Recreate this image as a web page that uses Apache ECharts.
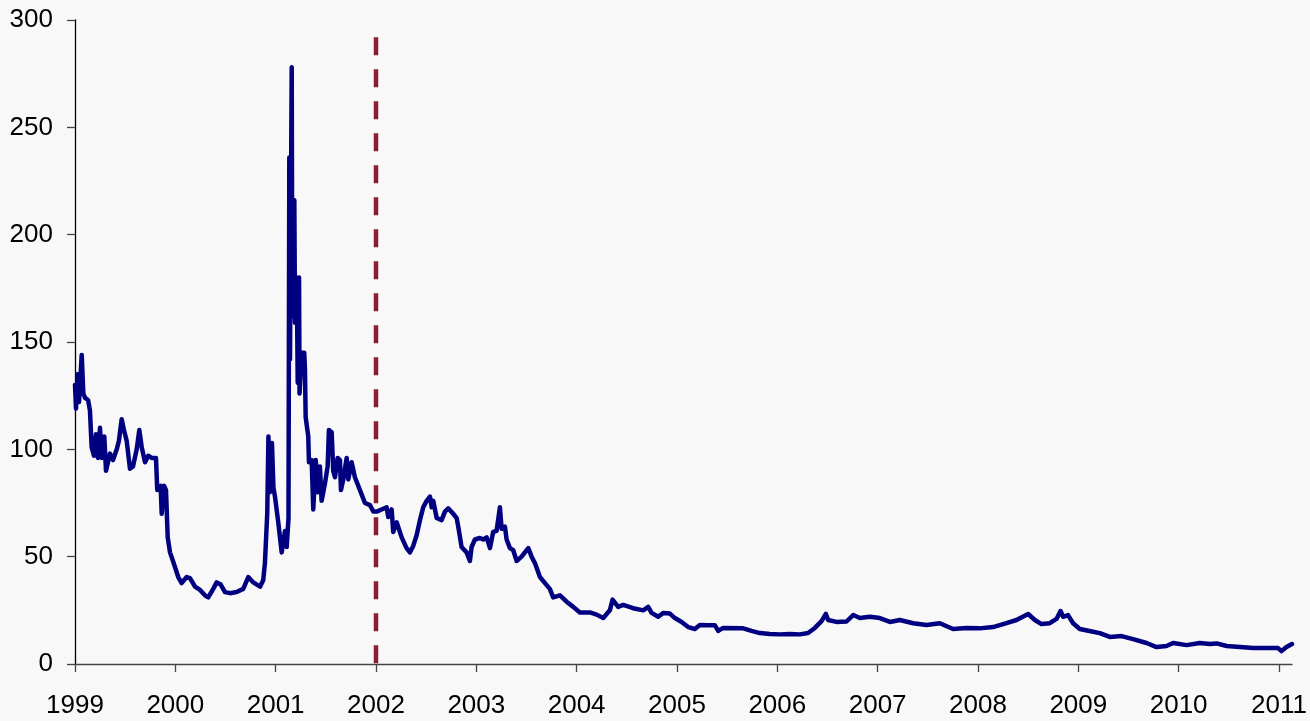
<!DOCTYPE html>
<html>
<head>
<meta charset="utf-8">
<script src="https://cdn.jsdelivr.net/npm/echarts@6/dist/echarts.min.js"></script>
<style>
html,body{margin:0;padding:0;background:#f8f8f8;}
#c{width:1310px;height:721px;}
</style>
</head>
<body>
<div id="c"></div>
<script>
// Decimal-year dates of the series
const years = [
1999.000,1999.010,1999.025,1999.040,1999.067,1999.083,1999.100,1999.130,1999.149,1999.166,
1999.189,1999.209,1999.229,1999.249,1999.266,1999.292,1999.309,1999.349,1999.379,1999.416,
1999.438,1999.465,1999.488,1999.515,1999.548,1999.578,1999.615,1999.641,1999.665,1999.698,
1999.730,1999.764,1999.807,1999.820,1999.854,1999.864,1999.887,1999.907,1999.924,1999.947,
1999.980,2000.029,2000.063,2000.113,2000.146,2000.196,2000.246,2000.295,2000.328,2000.378,
2000.412,2000.452,2000.495,2000.545,2000.611,2000.677,2000.727,2000.777,2000.844,2000.876,
2000.893,2000.916,2000.928,2000.943,2000.963,2000.978,2000.993,2001.026,2001.060,2001.093,
2001.110,2001.128,2001.136,2001.143,2001.160,2001.166,2001.186,2001.193,2001.210,2001.220,
2001.233,2001.238,2001.260,2001.285,2001.292,2001.299,2001.325,2001.332,2001.359,2001.375,
2001.399,2001.419,2001.441,2001.458,2001.491,2001.518,2001.531,2001.558,2001.574,2001.591,
2001.618,2001.641,2001.651,2001.674,2001.708,2001.724,2001.757,2001.790,2001.840,2001.890,
2001.940,2001.973,2002.007,2002.056,2002.106,2002.122,2002.156,2002.172,2002.206,2002.256,
2002.305,2002.338,2002.371,2002.405,2002.438,2002.471,2002.505,2002.538,2002.555,2002.571,
2002.605,2002.654,2002.687,2002.720,2002.770,2002.804,2002.820,2002.853,2002.903,2002.936,
2002.953,2002.986,2003.036,2003.069,2003.103,2003.136,2003.168,2003.202,2003.235,2003.252,
2003.285,2003.302,2003.335,2003.368,2003.402,2003.451,2003.484,2003.518,2003.551,2003.584,
2003.634,2003.684,2003.733,2003.766,2003.833,2003.900,2003.966,2004.032,2004.132,2004.199,
2004.265,2004.331,2004.358,2004.414,2004.464,2004.563,2004.663,2004.713,2004.747,2004.813,
2004.862,2004.929,2004.979,2005.046,2005.112,2005.178,2005.228,2005.311,2005.378,2005.411,
2005.460,2005.660,2005.743,2005.826,2005.926,2006.025,2006.125,2006.225,2006.307,2006.374,
2006.441,2006.484,2006.507,2006.590,2006.690,2006.756,2006.823,2006.922,2007.022,2007.122,
2007.221,2007.354,2007.487,2007.620,2007.752,2007.886,2008.018,2008.151,2008.284,2008.384,
2008.500,2008.567,2008.633,2008.716,2008.783,2008.823,2008.849,2008.898,2008.948,2009.015,
2009.148,2009.214,2009.314,2009.431,2009.546,2009.680,2009.780,2009.879,2009.945,2010.079,
2010.211,2010.311,2010.378,2010.478,2010.611,2010.743,2010.876,2010.991,2011.025,2011.075,
2011.130
];
// Series values
const values = [
130,119,135,122,144,126,124,123,118,101,
97,107,96,110,96,106,90,98,95,100,
104,114,109,104,91,92,100,109,101,94,
97,96,96,81,83,70,83,81,59,52,
47.5,40.5,37.7,40.5,40,36,34.5,32,31,35,
38,37,33.5,33,33.5,35,40.5,38,36,39,
47,70,106,80,103,82,78,66,52,62,
54.5,68,236,142,278,162,216,159,180,131,
180,126,145,145,137,115,106,94,95,72,
95,80,92,76,84,92,109,108,90,87,
96,95,81,86,96,86,94,87,81,75,
74,71,71,72,73,68.5,72,61.5,66,59,
54,52,55,60,67,73,76,78,73,76,
68,67,71,72.5,70,68,64,54.5,52,48,
54.5,58,58.7,58,59,54,61.5,62,73,63,
64,58,54,53,48,50,52,54,50,47,
40.5,37.7,35,31,32,29,26.6,24,24,23,
21.4,25,30,26.6,27.5,26,25,26.6,23.8,22,
23.8,23.5,21.4,19.6,17.2,16.3,18.2,18,18,15.4,
16.8,16.6,15.4,14.4,14,13.8,14,13.8,14.4,16.8,
20,23.3,20.5,19.6,19.8,22.8,21.4,22,21.4,19.6,
20.5,19,18.2,19,16.3,16.8,16.6,17.2,19,20.5,
23.3,20.5,18.6,19,21,24.7,22,22.8,19,16.3,
15,14.4,12.6,13,11.6,9.8,7.9,8.4,9.8,8.8,
9.8,9.3,9.6,8.4,7.9,7.5,7.5,7.4,6,7.9,
9.3
];
// X tick labels (years)
const yearTicks = [1999,2000,2001,2002,2003,2004,2005,2006,2007,2008,2009,2010,2011];
// Vertical dashed marker
const markerYear = 2002;
const markerTop = 292;

const seriesData = years.map((y, i) => [y, values[i]]);
const markerData = [[markerYear, markerTop], [markerYear, 0]];

const chart = echarts.init(document.getElementById('c'), null, {renderer: 'canvas'});
const font = '"Liberation Sans", Arial, Helvetica, sans-serif';
chart.setOption({
  animation: false,
  backgroundColor: '#f8f8f8',
  grid: {left: 75, right: 18, top: 20, bottom: 57, containLabel: false},
  xAxis: {
    type: 'value',
    min: 1999,
    max: 2011.13,
    interval: 1,
    splitLine: {show: false},
    axisLine: {show: true, onZero: false, lineStyle: {color: '#444', width: 1.3}},
    axisTick: {show: true, length: 8, customValues: yearTicks, lineStyle: {color: '#444', width: 1.3}},
    axisLabel: {customValues: yearTicks, color: '#000', fontSize: 26, fontFamily: font, margin: 29,
      formatter: v => String(Math.round(v))}
  },
  yAxis: {
    type: 'value',
    min: 0,
    max: 300,
    interval: 50,
    splitLine: {show: false},
    axisLine: {show: true, lineStyle: {color: '#000', width: 1.3}},
    axisTick: {show: true, length: 8, lineStyle: {color: '#444', width: 1.3}},
    axisLabel: {color: '#000', fontSize: 26, fontFamily: font, margin: 22}
  },
  series: [
    {
      type: 'line',
      data: seriesData,
      showSymbol: false,
      lineStyle: {color: '#000080', width: 4.5, join: 'round', cap: 'round'},
      z: 2
    },
    {
      type: 'line',
      data: markerData,
      showSymbol: false,
      lineStyle: {color: '#8b1f2f', width: 4.5, type: [18, 14]},
      z: 3
    }
  ]
});
</script>
</body>
</html>
